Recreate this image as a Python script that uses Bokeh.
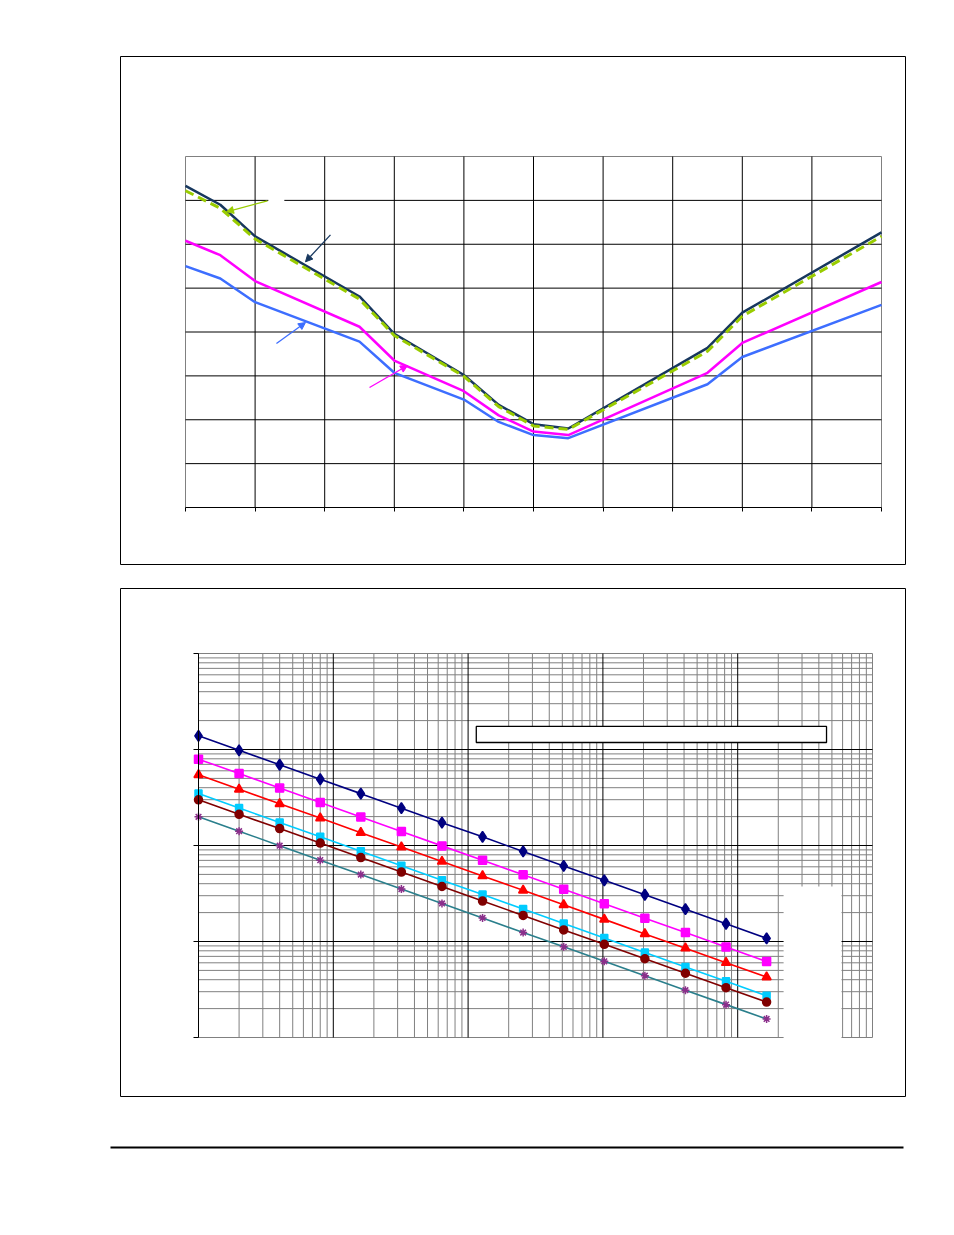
from bokeh.plotting import figure
from bokeh.models import Range1d, LinearAxis, LogAxis, FixedTicker, Arrow, NormalHead, Spacer
from bokeh.layouts import column, row
from bokeh.embed import file_html
from bokeh.resources import INLINE
import math

# ---------------- data: top chart ----------------
top_x_ticks = [0, 1, 2, 3, 4, 5, 6, 7, 8, 9, 10]
top_y_ticks = [0, 1, 2, 3, 4, 5, 6, 7, 8]
top_x = [0, 0.5, 1, 2.5, 3, 4, 4.5, 5, 5.5, 7.5, 8, 10]
navy_y = [7.33, 6.90, 6.18, 4.81, 3.96, 3.02, 2.34, 1.90, 1.80, 3.64, 4.44, 6.27]
green_y = [7.22, 6.82, 6.12, 4.75, 3.92, 2.99, 2.30, 1.86, 1.78, 3.56, 4.36, 6.18]
magenta_y = [6.08, 5.75, 5.16, 4.12, 3.35, 2.65, 2.10, 1.73, 1.65, 3.07, 3.75, 5.14]
blue_y = [5.50, 5.22, 4.68, 3.78, 3.07, 2.46, 1.95, 1.65, 1.58, 2.81, 3.43, 4.62]

# ---------------- data: bottom chart (log-log) ----------------
bot_x_major = [1, 10, 100, 1000, 10000, 100000]
bot_y_major = [1, 10, 100, 1000, 10000]
bot_minor_mult = [2, 3, 4, 5, 6, 7, 8, 9]
bot_x = [1, 2, 4, 8, 16, 32, 64, 128, 256, 512, 1024, 2048, 4096, 8192, 16384]
s_diamond = [1387, 981, 694, 490, 347, 245, 173, 123, 86.7, 61.3, 43.4, 30.7, 21.7, 15.3, 10.8]
s_square = [793, 561, 396, 280, 198, 140, 99.1, 70.1, 49.6, 35.0, 24.8, 17.5, 12.4, 8.76, 6.19]
s_triangle = [545, 385, 272, 193, 136, 96.3, 68.1, 48.2, 34.1, 24.1, 17.0, 12.0, 8.52, 6.02, 4.26]
s_cyan = [348, 246, 174, 123, 87.0, 61.5, 43.5, 30.8, 21.8, 15.4, 10.9, 7.69, 5.44, 3.85, 2.72]
s_circle = [299, 211, 150, 106, 74.8, 52.9, 37.4, 26.4, 18.7, 13.2, 9.35, 6.61, 4.67, 3.30, 2.34]
s_star = [199, 141, 99.5, 70.4, 49.8, 35.2, 24.9, 17.6, 12.4, 8.8, 6.22, 4.40, 3.11, 2.20, 1.56]

# ---------------- layout (page pixels) ----------------
BOX_L, BOX_R = 120, 905
T_TOP, T_BOT = 56, 564          # top box
T_PL, T_PR, T_PT, T_PB = 185, 881, 156, 507   # top plot area
B_TOP, B_BOT = 588, 1096        # bottom box
B_PL, B_PR, B_PT, B_PB = 198, 872, 653, 1037  # bottom plot area
RULE_L, RULE_R, RULE_Y, RULE_W = 110, 903, 1146, 2   # footer rule

GRAY = "#808080"


def blank_fig(width, height, left, right, top, bottom, **kw):
    p = figure(width=width, height=height, output_backend="svg", toolbar_location=None,
               x_axis_location=None, y_axis_location=None, **kw)
    p.center = []
    p.title.visible = False
    p.min_border_left = left
    p.min_border_right = right
    p.min_border_top = top
    p.min_border_bottom = bottom
    p.background_fill_color = "white"
    p.border_fill_color = "white"
    return p


# ================= TOP CHART =================
p1 = blank_fig(BOX_R + 1, 580, BOX_L, 1, T_TOP, 580 - T_BOT)
x0, x1 = top_x_ticks[0], top_x_ticks[-1]
y0, y1 = top_y_ticks[0], top_y_ticks[-1]
sx = (T_PR - T_PL) / (x1 - x0)
sy = (T_PB - T_PT) / (y1 - y0)
p1.x_range = Range1d(x0 - (T_PL - BOX_L) / sx, x1 + (BOX_R - T_PR) / sx)
p1.y_range = Range1d(y0 - (T_BOT - T_PB) / sy, y1 + (T_PT - T_TOP) / sy)
p1.outline_line_color = "black"
p1.outline_line_width = 1

p1.quad(left=[x0], right=[x1], bottom=[y0], top=[y1], fill_color="white", line_color=GRAY, line_width=1)
vx = top_x_ticks[1:-1]
p1.segment(x0=vx, y0=[y0] * len(vx), x1=vx, y1=[y1] * len(vx), line_color="black", line_width=1)
hy = top_y_ticks[1:-1]
p1.segment(x0=[x0] * len(hy), y0=hy, x1=[x1] * len(hy), y1=hy, line_color="black", line_width=1)

# blank label patch over the grid line
p1.quad(left=[1.19], right=[1.42], bottom=[6.9], top=[7.1], fill_color="white", line_color=None)

p1.line(top_x, blue_y, line_color="#3D6EFF", line_width=2.5)
p1.line(top_x, magenta_y, line_color="#FF00FF", line_width=2.5)
p1.line(top_x, navy_y, line_color="#17375E", line_width=2.5)
p1.line(top_x, green_y, line_color="#99CC00", line_width=3, line_dash="9 5")

ax1 = LinearAxis(fixed_location=y0, bounds=(x0, x1), ticker=FixedTicker(ticks=top_x_ticks))
ax1.major_tick_out = 4
ax1.major_tick_in = 0
ax1.minor_tick_out = 0
ax1.minor_tick_in = 0
ax1.axis_line_color = "black"
ax1.major_tick_line_color = "black"
ax1.major_label_text_color = None
ax1.major_label_text_font_size = "0px"
p1.add_layout(ax1, "below")

for (xs, ys, xe, ye, c) in [
    (1.178, 6.99, 0.589, 6.74, "#99CC00"),
    (2.083, 6.215, 1.724, 5.60, "#17375E"),
    (1.307, 3.737, 1.724, 4.216, "#3D6EFF"),
    (2.644, 2.735, 3.19, 3.236, "#FF00FF"),
]:
    p1.add_layout(Arrow(x_start=xs, y_start=ys, x_end=xe, y_end=ye, line_color=c, line_width=1.3,
                        end=NormalHead(size=7, fill_color=c, line_color=c)))

# ================= BOTTOM CHART =================
p2 = blank_fig(BOX_R + 1, 1120 - 580, BOX_L, 1, B_TOP - 580, 1120 - B_BOT,
               x_axis_type="log", y_axis_type="log")
lx0, lx1 = math.log10(bot_x_major[0]), math.log10(bot_x_major[-1])
ly0, ly1 = math.log10(bot_y_major[0]), math.log10(bot_y_major[-1])
dsx = (B_PR - B_PL) / (lx1 - lx0)
dsy = (B_PB - B_PT) / (ly1 - ly0)
p2.x_range = Range1d(10 ** (lx0 - (B_PL - BOX_L) / dsx), 10 ** (lx1 + (BOX_R - B_PR) / dsx))
p2.y_range = Range1d(10 ** (ly0 - (B_BOT - B_PB) / dsy), 10 ** (ly1 + (B_PT - B_TOP) / dsy))
p2.outline_line_color = "black"
p2.outline_line_width = 1

bx0, bx1 = bot_x_major[0], bot_x_major[-1]
by0, by1 = bot_y_major[0], bot_y_major[-1]
xminor = [m * d for d in bot_x_major[:-1] for m in bot_minor_mult]
yminor = [m * d for d in bot_y_major[:-1] for m in bot_minor_mult]
p2.segment(x0=xminor, y0=[by0] * len(xminor), x1=xminor, y1=[by1] * len(xminor), line_color=GRAY, line_width=1)
p2.segment(x0=[bx0] * len(yminor), y0=yminor, x1=[bx1] * len(yminor), y1=yminor, line_color=GRAY, line_width=1)
p2.quad(left=[bx0], right=[bx1], bottom=[by0], top=[by1], fill_color=None, line_color=GRAY, line_width=1)
vxm = bot_x_major[1:-1]
p2.segment(x0=vxm, y0=[by0] * len(vxm), x1=vxm, y1=[by1] * len(vxm), line_color="black", line_width=1)
hym = bot_y_major[1:-1]
p2.segment(x0=[bx0] * len(hym), y0=hym, x1=[bx1] * len(hym), y1=hym, line_color="black", line_width=1)

# blank legend area and blank text box
p2.quad(left=[21900], right=[58900], bottom=[0.93], top=[37.4], fill_color="white", line_color=None)
p2.quad(left=[115], right=[45600], bottom=[1183], top=[1738], fill_color="white", line_color="black", line_width=1.3)

series = [
    (s_diamond, "#000080", "diamond", "#000080", 11),
    (s_square, "#FF00FF", "square", "#FF00FF", 8),
    (s_triangle, "#FF0000", "triangle", "#FF0000", 9),
    (s_cyan, "#00CCFF", "square", "#00CCFF", 7),
    (s_circle, "#800000", "circle", "#800000", 8),
    (s_star, "#2A7F8C", "asterisk", "#8B2F8B", 8),
]
for ys, lc, mk, mc, ms in series:
    p2.line(bot_x, ys, line_color=lc, line_width=1.6)
    p2.scatter(bot_x, ys, marker=mk, size=ms, fill_color=mc, line_color=mc, line_width=1.5)

ax2 = LogAxis(fixed_location=bx0, bounds=(by0, by1), ticker=FixedTicker(ticks=bot_y_major))
ax2.major_tick_out = 5
ax2.major_tick_in = 0
ax2.minor_tick_out = 0
ax2.minor_tick_in = 0
ax2.axis_line_color = "black"
ax2.major_tick_line_color = "black"
ax2.major_label_text_color = None
ax2.major_label_text_font_size = "0px"
p2.add_layout(ax2, "left")

# ================= FOOTER RULE =================
PAD = 10
p3 = blank_fig(RULE_R - RULE_L + 2 * PAD, 40, PAD, PAD, 20, 40 - 20 - RULE_W)
p3.x_range = Range1d(0, 1)
p3.y_range = Range1d(0, 1)
p3.background_fill_color = "black"
p3.outline_line_color = None

layout = column(p1, p2, Spacer(height=RULE_Y - 20 - 1120),
                row(Spacer(width=RULE_L - PAD), p3, spacing=0), spacing=0)
open("out.html", "w").write(file_html(layout, INLINE))
